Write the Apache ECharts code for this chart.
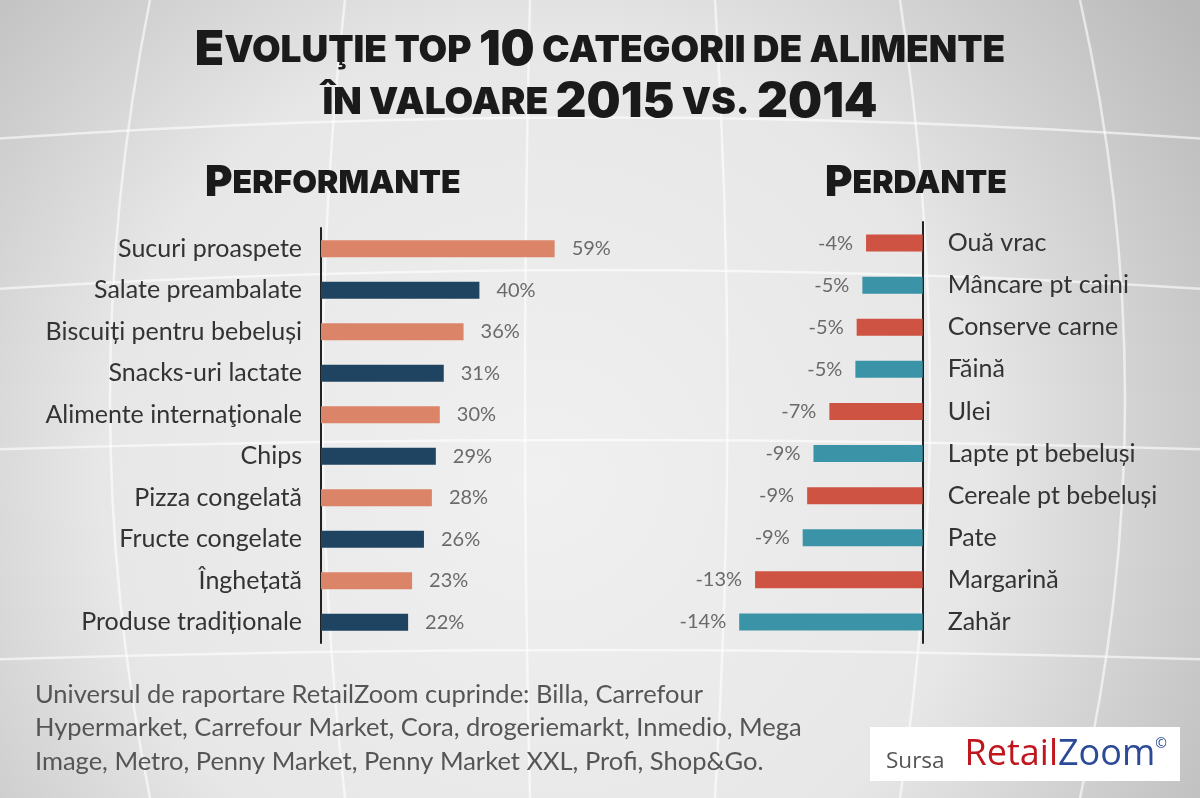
<!DOCTYPE html>
<html>
<head>
<meta charset="utf-8">
<script src="https://cdn.jsdelivr.net/npm/echarts@6/dist/echarts.min.js"></script>
<style>
html,body{margin:0;padding:0;width:1200px;height:798px;overflow:hidden;}
#c{width:1200px;height:798px;}
</style>
</head>
<body>
<div id="c"></div>
<script>
// ---- data ----
const winCategories = ['Sucuri proaspete','Salate preambalate','Biscuiți pentru bebeluși','Snacks-uri lactate','Alimente internaţionale','Chips','Pizza congelată','Fructe congelate','Înghețată','Produse tradiționale'];
const winValues = [59, 40, 36, 31, 30, 29, 28, 26, 23, 22];
const loseCategories = ['Ouă vrac','Mâncare pt caini','Conserve carne','Făină','Ulei','Lapte pt bebeluși','Cereale pt bebeluși','Pate','Margarină','Zahăr'];
const loseValues = [-4.46, -4.75, -5.2, -5.3, -7.35, -8.6, -9.1, -9.45, -13.2, -14.45];
const winColors = ['#DC8468', '#1F4462'];
const loseColors = ['#CF5343', '#3A93A6'];

const chart = echarts.init(document.getElementById('c'), null, {renderer: 'canvas'});

const labelFont = 'Lato';
const titleFont = 'Inter';

// decorative globe lines (x1,y1,cpx,cpy,x2,y2)
const curves = [
  [-20, 140, 600, 95, 1220, 140],
  [-20, 290, 600, 250, 1220, 290],
  [-20, 450, 600, 430, 1220, 450],
  [-20, 660, 600, 640, 1220, 660],
  [150, 0, 70, 400, 150, 798],
  [345, 0, 300, 400, 345, 798],
  [530, 0, 520, 400, 530, 798],
  [715, 0, 740, 400, 715, 798],
  [900, 0, 960, 400, 900, 798],
  [1080, 0, 1170, 400, 1080, 798]
];
const deco = curves.map(c => ({
  type: 'bezierCurve', z: -1, silent: true,
  shape: {x1: c[0], y1: c[1], cpx1: c[2], cpy1: c[3], x2: c[4], y2: c[5]},
  style: {fill: null, stroke: 'rgba(255,255,255,0.6)', lineWidth: 2.5}
}));

const small = {fontFamily: titleFont, fontWeight: 900, fontSize: 37, color: '#1a1a1a'};
const big = {fontFamily: titleFont, fontWeight: 900, fontSize: 48, color: '#1a1a1a'};
const hSmall = {fontFamily: titleFont, fontWeight: 900, fontSize: 32, color: '#1a1a1a'};
const hBig = {fontFamily: titleFont, fontWeight: 900, fontSize: 42, color: '#1a1a1a'};

chart.setOption({
  backgroundColor: {
    type: 'radial', x: 0.45, y: 0.6, r: 1.0,
    colorStops: [{offset: 0, color: '#f0f0f0'}, {offset: 0.55, color: '#e7e7e7'}, {offset: 1, color: '#b9b9b9'}]
  },
  animation: false,
  title: [
    {
      left: 'center', top: 20,
      text: '{b|E}{s|VOLUŢIE TOP }{b|10}{s| CATEGORII DE ALIMENTE}\n{s|ÎN VALOARE }{b|2015}{s| VS. }{b|2014}',
      textStyle: {lineHeight: 52, rich: {b: Object.assign({lineHeight: 52}, big), s: Object.assign({lineHeight: 52}, small)}}
    },
    {
      left: 200, top: 157,
      text: '{b|P}{s|ERFORMANTE}',
      textStyle: {rich: {b: hBig, s: hSmall}}
    },
    {
      left: 820, top: 157,
      text: '{b|P}{s|ERDANTE}',
      textStyle: {rich: {b: hBig, s: hSmall}}
    },
    {
      left: 30, top: 673,
      text: 'Universul de raportare RetailZoom cuprinde: Billa, Carrefour\nHypermarket, Carrefour Market, Cora, drogeriemarkt, Inmedio, Mega\nImage, Metro, Penny Market, Penny Market XXL, Profi, Shop&Go.',
      textStyle: {fontFamily: labelFont, fontWeight: 'normal', fontSize: 25.5, color: '#555', lineHeight: 33.5}
    }
  ],
  graphic: deco.concat([
    {type: 'rect', left: 870, top: 727, shape: {width: 310, height: 54}, style: {fill: '#ffffff'}},
    {
      type: 'text', left: 886, top: 737,
      style: {
        text: '{g|Sursa}{sp| }{r|Retail}{bl|Zoom}{c|©}',
        rich: {
          g: {fontFamily: 'Open Sans', fontSize: 22.5, fill: '#555', verticalAlign: 'bottom'},
          sp: {fontFamily: 'Open Sans', fontSize: 22.5, width: 20},
          r: {fontFamily: 'Open Sans', fontSize: 36, fill: '#C0161E', verticalAlign: 'bottom'},
          bl: {fontFamily: 'Open Sans', fontSize: 36, fill: '#2B4A97', verticalAlign: 'bottom'},
          c: {fontFamily: 'Open Sans', fontSize: 14, fill: '#2B4A97', verticalAlign: 'top'}
        }
      }
    }
  ]),
  grid: [
    {left: 321, top: 228, width: 237.6, height: 415},
    {left: 732.2, top: 222, width: 190.5, height: 421}
  ],
  xAxis: [
    {gridIndex: 0, type: 'value', min: 0, max: 60, show: false},
    {gridIndex: 1, type: 'value', min: -15, max: 0, show: false}
  ],
  yAxis: [
    {
      gridIndex: 0, type: 'category', data: winCategories, inverse: true,
      axisLine: {lineStyle: {color: '#222', width: 2}},
      axisTick: {length: 8, lineStyle: {color: '#222', width: 2}},
      axisLabel: {fontFamily: labelFont, fontSize: 25, color: '#333', margin: 19}
    },
    {
      gridIndex: 1, type: 'category', data: loseCategories, inverse: true, position: 'right',
      axisLine: {lineStyle: {color: '#222', width: 2}},
      axisTick: {inside: true, length: 8, lineStyle: {color: '#222', width: 2}},
      axisLabel: {fontFamily: labelFont, fontSize: 25, color: '#333', margin: 25}
    }
  ],
  series: [
    {
      type: 'bar', xAxisIndex: 0, yAxisIndex: 0, barWidth: 17,
      data: winValues.map((v, i) => ({value: v, itemStyle: {color: winColors[i % 2]}})),
      label: {show: true, position: 'right', distance: 17, fontFamily: labelFont, fontSize: 20, color: '#6a6a6a',
        formatter: p => Math.round(p.value) + '%'}
    },
    {
      type: 'bar', xAxisIndex: 1, yAxisIndex: 1, barWidth: 17,
      data: loseValues.map((v, i) => ({value: v, itemStyle: {color: loseColors[i % 2]}})),
      label: {show: true, position: 'left', distance: 13, fontFamily: labelFont, fontSize: 20, color: '#6a6a6a',
        formatter: p => Math.round(p.value) + '%'}
    }
  ]
});
</script>
</body>
</html>
